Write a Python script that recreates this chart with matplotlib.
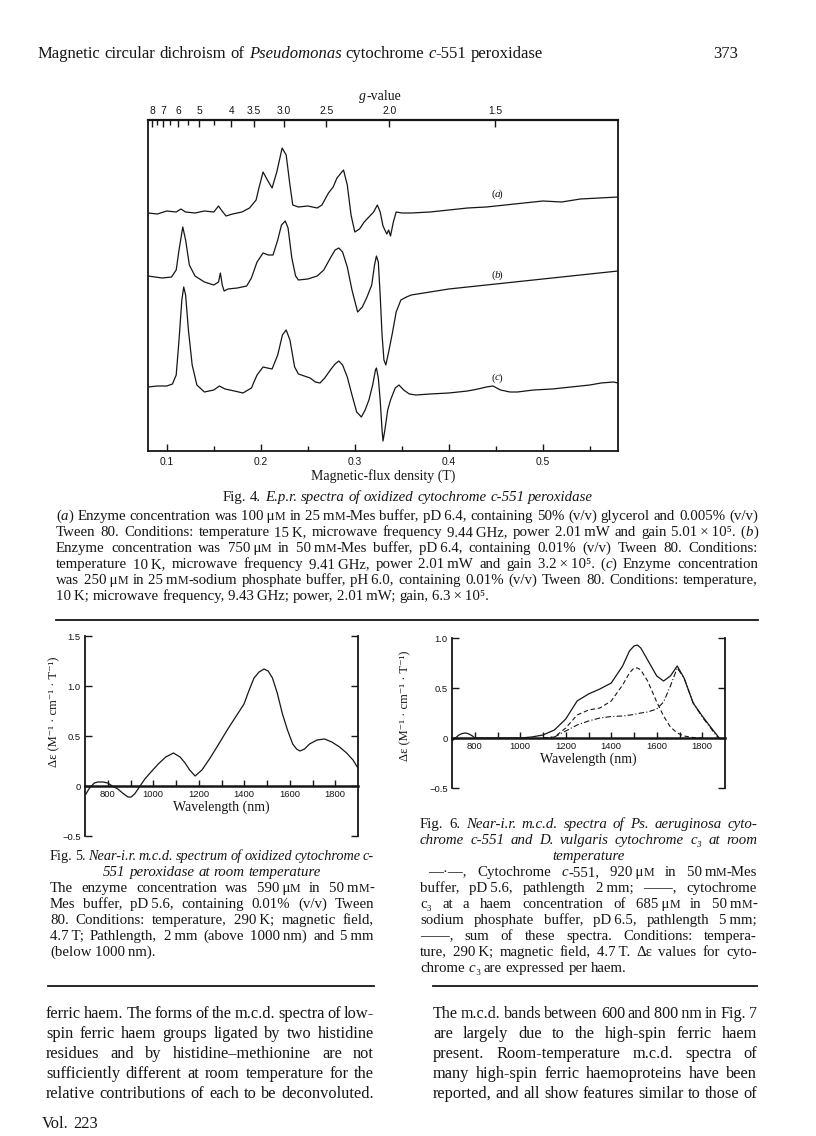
import re
import matplotlib
matplotlib.use('Agg')
import matplotlib.pyplot as plt
from matplotlib.font_manager import FontProperties
from matplotlib.lines import Line2D

# ---------------- data ----------------
# Fig. 4  E.p.r. spectra (field in T, signal in arbitrary units)
epr_field_a = [0.080, 0.090, 0.100, 0.110, 0.115, 0.120, 0.130, 0.140, 0.150, 0.155,
               0.158, 0.163, 0.170, 0.180, 0.188, 0.195, 0.198, 0.2024, 0.207, 0.212,
               0.217, 0.2227, 0.227, 0.231, 0.234, 0.240, 0.250, 0.260, 0.265, 0.272,
               0.277, 0.281, 0.288, 0.292, 0.296, 0.300, 0.305, 0.310, 0.316, 0.320,
               0.324, 0.327, 0.330, 0.334, 0.336, 0.338, 0.341, 0.344, 0.350, 0.360,
               0.380, 0.400, 0.420, 0.440, 0.460, 0.480, 0.500, 0.520, 0.540, 0.560,
               0.580]
epr_signal_a = [238, 237, 240, 239, 242, 239, 238, 240, 239, 245,
                241, 235, 237, 239, 243, 251, 263, 279, 271, 263,
                279, 303, 296, 266, 246, 244, 245, 243, 246, 258,
                264, 273, 281, 266, 236, 219, 222, 229, 235, 239,
                246, 239, 225, 217, 221, 215, 229, 239, 238, 238,
                239, 241, 243, 244, 246, 248, 250, 249, 252, 253,
                254]
epr_field_b = [0.080, 0.095, 0.105, 0.110, 0.113, 0.117, 0.120, 0.124, 0.130, 0.140,
               0.150, 0.155, 0.157, 0.159, 0.161, 0.165, 0.175, 0.185, 0.190, 0.196,
               0.2024, 0.208, 0.213, 0.218, 0.222, 0.226, 0.229, 0.233, 0.237, 0.240,
               0.250, 0.260, 0.267, 0.274, 0.279, 0.283, 0.287, 0.292, 0.297, 0.303,
               0.308, 0.313, 0.318, 0.321, 0.323, 0.325, 0.327, 0.329, 0.331, 0.333,
               0.336, 0.340, 0.344, 0.349, 0.355, 0.360, 0.380, 0.400, 0.420, 0.440,
               0.460, 0.480, 0.500, 0.520, 0.540, 0.560, 0.580]
epr_signal_b = [175, 173, 174, 181, 201, 224, 211, 186, 175, 169,
                166, 169, 178, 166, 160, 162, 163, 165, 173, 189,
                198, 196, 196, 211, 226, 230, 223, 193, 175, 171,
                172, 175, 181, 193, 201, 203, 199, 184, 161, 139,
                144, 154, 166, 186, 195, 189, 156, 116, 91, 86,
                99, 118, 139, 151, 154, 156, 159, 162, 164, 166,
                168, 170, 172, 174, 176, 178, 180]
epr_field_c = [0.080, 0.090, 0.100, 0.106, 0.110, 0.113, 0.116, 0.118, 0.120, 0.123,
               0.127, 0.132, 0.140, 0.150, 0.156, 0.162, 0.172, 0.181, 0.190, 0.196,
               0.2024, 0.207, 0.212, 0.218, 0.223, 0.227, 0.231, 0.236, 0.240, 0.2525,
               0.258, 0.263, 0.268, 0.274, 0.279, 0.283, 0.287, 0.292, 0.297, 0.302,
               0.307, 0.311, 0.315, 0.319, 0.322, 0.323, 0.325, 0.327, 0.329, 0.330,
               0.332, 0.335, 0.338, 0.343, 0.347, 0.352, 0.358, 0.365, 0.380, 0.400,
               0.420, 0.431, 0.440, 0.447, 0.455, 0.465, 0.473, 0.490, 0.510, 0.530,
               0.550, 0.562, 0.575, 0.580]
epr_signal_c = [64, 65, 65, 67, 76, 111, 151, 164, 156, 121,
                86, 66, 59, 61, 65, 62, 60, 58, 63, 76,
                84, 83, 82, 96, 116, 121, 111, 84, 77, 73,
                69, 68, 73, 81, 87, 90, 86, 74, 56, 39,
                34, 41, 51, 66, 81, 83, 73, 51, 21, 10,
                21, 41, 51, 63, 66, 61, 57, 56, 57, 58,
                60, 62, 64, 65, 61, 59, 59, 61, 62, 64,
                66, 68, 69, 68]
epr_labels = ['(a)', '(b)', '(c)']
epr_label_signal = [257, 176, 73]
field_ticks = [0.1, 0.2, 0.3, 0.4, 0.5]
field_minor = [0.15, 0.25, 0.35, 0.45, 0.55]
microwave_ghz = 9.43
g_major = [8, 7, 6, 5, 4, 3.5, 3.0, 2.5, 2.0, 1.5]
g_major_labels = ['8', '7', '6', '5', '4', '3.5', '3.0', '2.5', '2.0', '1.5']
g_minor = [7.5, 6.5, 5.5, 4.5]

# Fig. 5  m.c.d. of peroxidase
wl5 = [704, 720, 741, 756, 780, 800, 820, 844, 865, 889, 903, 918, 933, 948, 963, 990,
       1022, 1055, 1089, 1118, 1140, 1160, 1184, 1214, 1250, 1288, 1325, 1362, 1399,
       1420, 1443, 1465, 1487, 1505, 1524, 1545, 1568, 1590, 1613, 1630, 1645, 1665,
       1687, 1720, 1753, 1785, 1819, 1850, 1878, 1905]
de5 = [-0.08, -0.02, 0.03, 0.04, 0.04, 0.03, 0.00, -0.03, -0.07, -0.11, -0.11, -0.08,
       -0.03, 0.02, 0.07, 0.14, 0.22, 0.29, 0.33, 0.29, 0.23, 0.16, 0.10, 0.16, 0.28,
       0.42, 0.56, 0.69, 0.82, 0.95, 1.08, 1.14, 1.17, 1.15, 1.08, 0.93, 0.72, 0.56,
       0.42, 0.37, 0.35, 0.37, 0.42, 0.46, 0.47, 0.44, 0.39, 0.33, 0.26, 0.16]

# Fig. 6  sum, cytochrome c3 (dashed), cytochrome c-551 (dash-dot)
wl6_sum = [700, 715, 730, 745, 760, 775, 790, 800, 1000, 1050, 1100, 1150, 1200, 1250,
           1300, 1350, 1400, 1450, 1480, 1500, 1515, 1530, 1560, 1600, 1630, 1660, 1690,
           1720, 1760, 1800, 1840, 1875]
de6_sum = [-0.03, 0.0, 0.03, 0.045, 0.05, 0.04, 0.02, 0.0, 0.0, 0.01, 0.03, 0.08, 0.19,
           0.37, 0.44, 0.49, 0.55, 0.72, 0.87, 0.92, 0.93, 0.90, 0.78, 0.62, 0.57, 0.62,
           0.72, 0.60, 0.35, 0.22, 0.10, 0.0]
wl6_c3 = [1100, 1150, 1200, 1250, 1300, 1350, 1400, 1450, 1480, 1500, 1515, 1530, 1560,
          1600, 1630, 1660, 1690, 1720, 1760, 1800]
de6_c3 = [0.0, 0.01, 0.10, 0.23, 0.28, 0.30, 0.37, 0.53, 0.65, 0.70, 0.70, 0.68, 0.57,
          0.36, 0.22, 0.11, 0.05, 0.02, 0.005, 0.0]
wl6_c551 = [1100, 1150, 1200, 1250, 1300, 1350, 1400, 1450, 1500, 1530, 1560, 1600, 1630,
            1660, 1690, 1720, 1760, 1800, 1840, 1870]
de6_c551 = [0.0, 0.01, 0.07, 0.13, 0.17, 0.20, 0.215, 0.22, 0.235, 0.25, 0.26, 0.29,
            0.36, 0.52, 0.70, 0.60, 0.35, 0.21, 0.09, 0.0]
wl_major = [800, 1000, 1200, 1400, 1600, 1800]
wl_minor = [900, 1100, 1300, 1500, 1700]
yt5 = [-0.5, 0, 0.5, 1.0, 1.5]
yt5_labels = ['\u22120.5', '0', '0.5', '1.0', '1.5']
yt6 = [-0.5, 0, 0.5, 1.0]
yt6_labels = ['\u22120.5', '0', '0.5', '1.0']

# ---------------- page text ----------------
header = "Magnetic circular dichroism of {i:Pseudomonas} cytochrome {i:c}-551 peroxidase"
fig4_title = "Fig. 4. {i:E.p.r. spectra of oxidized cytochrome c-551 peroxidase}"
fig4_text = [
    "({i:a}) Enzyme concentration was 100~\u03bc{s:M} in 25~m{s:M}-Mes buffer, pD~6.4, containing 50% (v/v) glycerol and 0.005% (v/v)",
    "Tween 80. Conditions: temperature 15~K, microwave frequency 9.44~GHz, power 2.01~mW and gain 5.01~\u00d7~10\u2075. ({i:b})",
    "Enzyme concentration was 750~\u03bc{s:M} in 50~m{s:M}-Mes buffer, pD~6.4, containing 0.01% (v/v) Tween 80. Conditions:",
    "temperature 10~K, microwave frequency 9.41~GHz, power 2.01~mW and gain 3.2~\u00d7~10\u2075. ({i:c}) Enzyme concentration",
    "was 250~\u03bc{s:M} in 25~m{s:M}-sodium phosphate buffer, pH~6.0, containing 0.01% (v/v) Tween 80. Conditions: temperature,",
    "10~K; microwave frequency, 9.43~GHz; power, 2.01~mW; gain, 6.3~\u00d7~10\u2075.",
]
fig5_text = [
    ("Fig. 5. {i:Near-i.r. m.c.d. spectrum of oxidized cytochrome c-}", 'justify'),
    ("{i:551 peroxidase at room temperature}", 'center'),
    ("The enzyme concentration was 590~\u03bc{s:M} in 50~m{s:M}-", 'justify'),
    ("Mes buffer, pD~5.6, containing 0.01% (v/v) Tween", 'justify'),
    ("80. Conditions: temperature, 290~K; magnetic field,", 'justify'),
    ("4.7~T; Pathlength, 2~mm (above 1000~nm) and 5~mm", 'justify'),
    ("(below 1000~nm).", 'left'),
]
fig6_text = [
    ("Fig. 6. {i:Near-i.r. m.c.d. spectra of Ps. aeruginosa cyto-}", 'justify'),
    ("{i:chrome c-551 and D. vulgaris cytochrome c\u2083 at room}", 'justify'),
    ("{i:temperature}", 'center'),
    ("\u2014\u00b7\u2014, Cytochrome {i:c}-551, 920~\u03bc{s:M} in 50~m{s:M}-Mes", 'justify_indent'),
    ("buffer, pD~5.6, pathlength 2~mm; \u2014\u2014, cytochrome", 'justify'),
    ("c\u2083 at a haem concentration of 685~\u03bc{s:M} in 50~m{s:M}-", 'justify'),
    ("sodium phosphate buffer, pD~6.5, pathlength 5~mm;", 'justify'),
    ("\u2014\u2014, sum of these spectra. Conditions: tempera-", 'justify'),
    ("ture, 290~K; magnetic field, 4.7~T. \u0394\u03b5 values for cyto-", 'justify'),
    ("chrome {i:c}\u2083 are expressed per haem.", 'left'),
]
body_left = [
    "ferric haem. The forms of the m.c.d. spectra of low-",
    "spin ferric haem groups ligated by two histidine",
    "residues and by histidine\u2013methionine are not",
    "sufficiently different at room temperature for the",
    "relative contributions of each to be deconvoluted.",
]
body_right = [
    "The m.c.d. bands between 600 and 800~nm in Fig. 7",
    "are largely due to the high-spin ferric haem",
    "present. Room-temperature m.c.d. spectra of",
    "many high-spin ferric haemoproteins have been",
    "reported, and all show features similar to those of",
]

# ---------------- figure ----------------
W, H = 816, 1136
fig = plt.figure(figsize=(W / 100, H / 100), dpi=100)
fig.patch.set_facecolor('white')
SERIF = ['Liberation Serif', 'DejaVu Serif']
SANS = ['Liberation Sans', 'DejaVu Sans']
INK = '#161616'
renderer = fig.canvas.get_renderer()

CAP = 10.7
BODY = 11.8


def fx(x):
    return x / W


def fy(y):
    return 1 - y / H


def rect(l, t, r, b):
    return [l / W, 1 - b / H, (r - l) / W, (b - t) / H]


def fprop(st, size):
    if st == 'i':
        return FontProperties(family=SERIF, style='italic', size=size)
    if st == 's':
        return FontProperties(family=SERIF, size=size * 0.8)
    return FontProperties(family=SERIF, size=size)


def measure(s, prop):
    return renderer.get_text_width_height_descent(s, prop, ismath=False)[0]


def parse(markup):
    segs = []
    for part in re.split(r'(\{[is]:[^}]*\})', markup):
        if not part:
            continue
        m = re.match(r'\{([is]):(.*)\}$', part)
        if m:
            segs.append((m.group(2), m.group(1)))
        else:
            segs.append((part, 'n'))
    return segs


def words_of(segs):
    words = [[]]
    for text, st in segs:
        parts = text.split(' ')
        for k, p in enumerate(parts):
            if k > 0:
                words.append([])
            if p:
                words[-1].append((p.replace('~', '\u2009'), st))
    return [w for w in words if w]


def draw_line(markup, x0, x1, y, size, align='left'):
    words = words_of(parse(markup))
    while True:
        widths = [[measure(p, fprop(st, size)) for p, st in w] for w in words]
        wsum = [sum(ws) for ws in widths]
        space = measure('a a', fprop('n', size)) - measure('aa', fprop('n', size))
        n = len(words)
        if align == 'justify' and n > 1 and sum(wsum) + 0.6 * space * (n - 1) > (x1 - x0):
            size *= 0.985
            continue
        break
    natural = sum(wsum) + space * (n - 1)
    if align == 'justify' and n > 1:
        gap = (x1 - x0 - sum(wsum)) / (n - 1)
        x = x0
    elif align == 'center':
        gap = space
        x = (x0 + x1) / 2 - natural / 2
    elif align == 'right':
        gap = space
        x = x1 - natural
    else:
        gap = space
        x = x0
    for w, ws in zip(words, widths):
        for (p, st), pw in zip(w, ws):
            fig.text(fx(x), fy(y), p, fontproperties=fprop(st, size), color=INK,
                     ha='left', va='baseline')
            x += pw
        x += gap


def hrule(x0, x1, y, lw=1.3):
    fig.add_artist(Line2D([fx(x0), fx(x1)], [fy(y), fy(y)], transform=fig.transFigure,
                          color=INK, lw=lw))


# header
draw_line(header, 38, 600, 58, 12.0)
draw_line("373", 600, 738, 58, 12.0, 'right')

# ---------------- Fig. 4 ----------------
ax4 = fig.add_axes(rect(148, 120, 618, 451))
for bf, sg in [(epr_field_a, epr_signal_a), (epr_field_b, epr_signal_b),
               (epr_field_c, epr_signal_c)]:
    ax4.plot(bf, sg, color=INK, lw=0.9, solid_joinstyle='round')
ax4.set_xlim(0.08, 0.58)
ax4.set_ylim(0, 331)
ax4.set_yticks([])
ax4.set_xticks(field_ticks)
ax4.set_xticklabels([f'{v:.1f}' for v in field_ticks])
ax4.set_xticks(field_minor, minor=True)
ax4.tick_params(axis='x', which='major', direction='in', length=5, width=1.0, pad=4,
                labelsize=7.4, colors=INK)
ax4.tick_params(axis='x', which='minor', direction='in', length=3.5, width=1.0, colors=INK)
for lab in ax4.get_xticklabels():
    lab.set_fontfamily(SANS)
for sp in ax4.spines.values():
    sp.set_linewidth(1.3)
    sp.set_color(INK)
ax4.spines['top'].set_linewidth(1.6)
ax4.set_xlabel('Magnetic-flux density (T)', fontfamily=SERIF, fontsize=10, color=INK,
               labelpad=2)
for lab, yv in zip(epr_labels, epr_label_signal):
    ax4.text(0.449, yv, lab[0], fontfamily=SERIF, fontsize=8, ha='right', va='center',
             color=INK)
    ax4.text(0.449, yv, lab[1], fontfamily=SERIF, fontstyle='italic', fontsize=8,
             ha='left', va='center', color=INK)
    ax4.text(0.4535, yv, lab[2], fontfamily=SERIF, fontsize=8, ha='left', va='center',
             color=INK)

G_CONST = 0.0714477 * microwave_ghz
axg = ax4.twiny()
axg.set_xlim(0.08, 0.58)
axg.set_xticks([G_CONST / g for g in g_major])
axg.set_xticklabels(g_major_labels)
axg.set_xticks([G_CONST / g for g in g_minor], minor=True)
axg.tick_params(axis='x', which='major', direction='in', length=5, width=1.0, pad=3,
                labelsize=7.4, colors=INK)
axg.tick_params(axis='x', which='minor', direction='in', length=3.5, width=1.0, colors=INK)
for lab in axg.get_xticklabels():
    lab.set_fontfamily(SANS)
for sp in axg.spines.values():
    sp.set_visible(False)
draw_line("{i:g}-value", 330, 430, 100, 10, 'center')

draw_line(fig4_title, 56, 760, 501, CAP, 'center')
for k, line in enumerate(fig4_text):
    draw_line(line, 56, 758, 520 + 16 * k, CAP,
              'left' if k == len(fig4_text) - 1 else 'justify')
hrule(56, 758, 620)


# ---------------- Fig. 5 / Fig. 6 helpers ----------------
def mcd_axes(r, ylim, yt, ytl, label_xy):
    ax = fig.add_axes(r)
    ax.set_xlim(700, 1900)
    ax.set_ylim(*ylim)
    ax.spines['top'].set_visible(False)
    ax.spines['bottom'].set_position(('data', 0))
    ax.spines['bottom'].set_linewidth(1.8)
    for s in ['left', 'right', 'bottom']:
        ax.spines[s].set_color(INK)
    ax.spines['left'].set_linewidth(1.3)
    ax.spines['right'].set_linewidth(1.3)
    ax.set_yticks(yt)
    ax.set_yticklabels(ytl)
    ax.tick_params(axis='y', direction='in', length=5, width=1.0, left=True, right=True,
                   labelright=False, labelsize=6.8, pad=3, colors=INK)
    ax.set_xticks(wl_major)
    ax.set_xticklabels([str(v) for v in wl_major])
    ax.set_xticks(wl_minor, minor=True)
    ax.tick_params(axis='x', which='both', direction='in', length=4, width=1.0,
                   labelsize=6.8, pad=3, colors=INK)
    for lab in ax.get_xticklabels() + ax.get_yticklabels():
        lab.set_fontfamily(SANS)
    ax.set_xlabel('Wavelength (nm)', fontfamily=SERIF, fontsize=10, color=INK, labelpad=1)
    ax.set_ylabel('\u0394\u03b5 (M\u207b\u00b9 \u00b7 cm\u207b\u00b9 \u00b7 T\u207b\u00b9)',
                  fontfamily=SERIF, fontsize=9, color=INK)
    ax.yaxis.set_label_coords(*label_xy)
    ax.patch.set_alpha(0)
    return ax


ax5 = mcd_axes(rect(85, 636, 358, 836), (-0.5, 1.5), yt5, yt5_labels, (-0.09, 0.62))
ax5.plot(wl5, de5, color=INK, lw=0.9)

ax6 = mcd_axes(rect(452, 638, 725, 788), (-0.5, 1.0), yt6, yt6_labels, (-0.15, 0.55))
ax6.plot(wl6_sum, de6_sum, color=INK, lw=0.9)
ax6.plot(wl6_c3, de6_c3, color=INK, lw=0.8, ls=(0, (4, 2.5)))
ax6.plot(wl6_c551, de6_c551, color=INK, lw=0.8, ls=(0, (5, 2, 1, 2)))

# captions
for k, (line, al) in enumerate(fig5_text):
    draw_line(line, 50, 374, 860 + 16 * k, CAP, al)
for k, (line, al) in enumerate(fig6_text):
    x0 = 420
    if al == 'justify_indent':
        al = 'justify'
        x0 = 428
    draw_line(line, x0, 757, 828 + 16 * k, CAP, al)

hrule(48, 374, 986)
hrule(433, 757, 986)

for k, line in enumerate(body_left):
    draw_line(line, 46, 374, 1018 + 20 * k, BODY, 'justify')
for k, line in enumerate(body_right):
    draw_line(line, 433, 757, 1018 + 20 * k, BODY, 'justify')
draw_line("Vol. 223", 42, 300, 1128, BODY)

fig.savefig('out.png', dpi=100, facecolor='white')
